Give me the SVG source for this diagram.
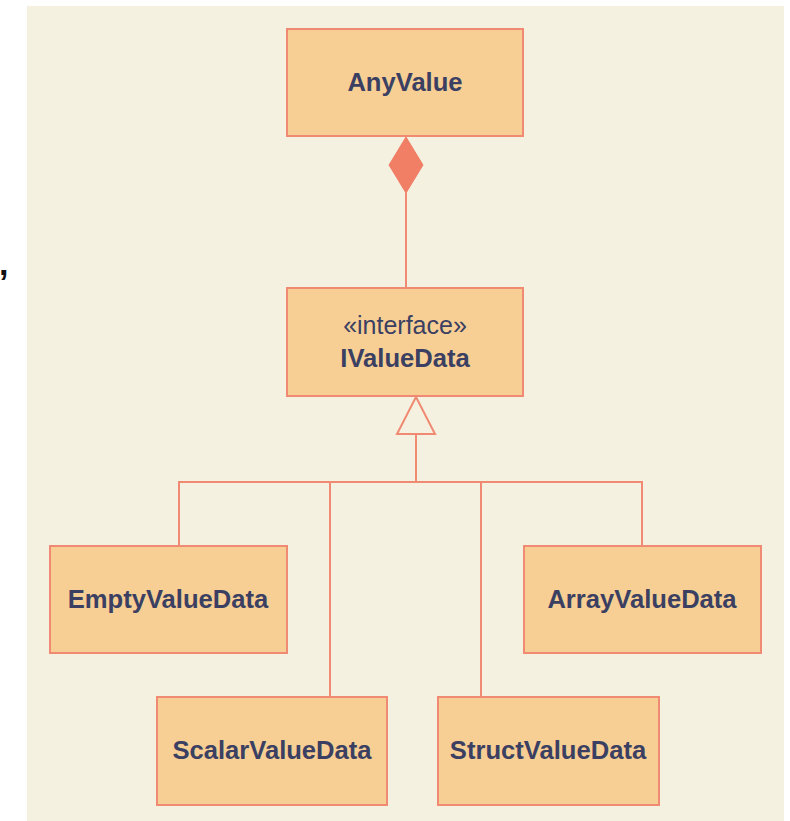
<svg xmlns="http://www.w3.org/2000/svg" width="790" height="821" viewBox="0 0 790 821">
  <style>
    .box { fill: #f7cf94; stroke: #f08a72; stroke-width: 2; }
    .name { font-family: "Liberation Sans", Arial, sans-serif; font-size: 25.6px; font-weight: bold; fill: #3b4062; text-anchor: middle; }
    .stereo { font-family: "Liberation Sans", Arial, sans-serif; font-size: 25px; fill: #3b4062; text-anchor: middle; }
    .link { fill: none; stroke: #f08a72; stroke-width: 2; }
  </style>
  <rect x="0" y="0" width="790" height="821" fill="#ffffff"/>
  <rect x="27" y="6" width="757" height="815" fill="#f5f1e0"/>
  <text x="-1" y="275" font-family="Liberation Sans, Arial, sans-serif" font-size="34" font-weight="bold" fill="#111">,</text>

  <g id="connectors">
    <!-- composition: AnyValue owns IValueData -->
    <line class="link" x1="406" y1="193" x2="406" y2="288"/>
    <polygon points="406,137 423,165 406,193 389,165" fill="#f07f66" stroke="#f07f66" stroke-width="1"/>
    <!-- realization tree -->
    <polygon points="416,397 435,434 397,434" fill="#f5f1e0" stroke="#f08a72" stroke-width="2"/>
    <line class="link" x1="416" y1="434" x2="416" y2="482"/>
    <polyline class="link" points="179,546 179,482 642,482 642,546"/>
    <line class="link" x1="330" y1="482" x2="330" y2="697"/>
    <line class="link" x1="481" y1="482" x2="481" y2="697"/>
  </g>

  <g id="AnyValue">
    <rect class="box" x="287" y="29" width="236" height="107"/>
    <text class="name" x="405" y="91">AnyValue</text>
  </g>

  <g id="IValueData">
    <rect class="box" x="287" y="288" width="236" height="108"/>
    <text class="stereo" x="405" y="334">«interface»</text>
    <text class="name" x="405" y="367">IValueData</text>
  </g>

  <g id="EmptyValueData">
    <rect class="box" x="50" y="546" width="237" height="107"/>
    <text class="name" x="168" y="608">EmptyValueData</text>
  </g>

  <g id="ArrayValueData">
    <rect class="box" x="524" y="546" width="237" height="107"/>
    <text class="name" x="642" y="608">ArrayValueData</text>
  </g>

  <g id="ScalarValueData">
    <rect class="box" x="157" y="697" width="230" height="108"/>
    <text class="name" x="272" y="759">ScalarValueData</text>
  </g>

  <g id="StructValueData">
    <rect class="box" x="438" y="697" width="221" height="108"/>
    <text class="name" x="548" y="759">StructValueData</text>
  </g>
</svg>
